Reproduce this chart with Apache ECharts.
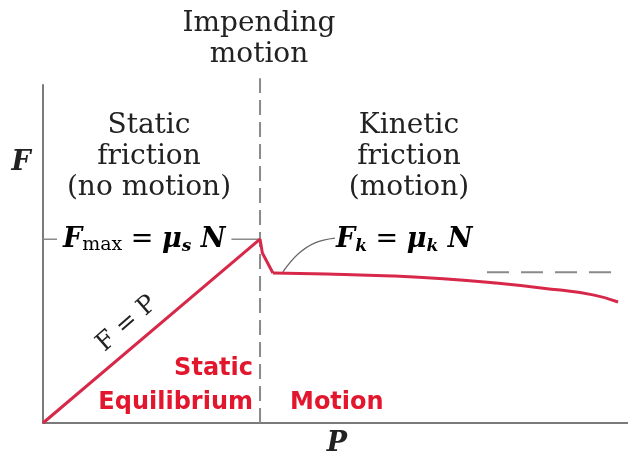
<!DOCTYPE html>
<html>
<head>
<meta charset="utf-8">
<script src="https://cdn.jsdelivr.net/npm/echarts@6/dist/echarts.min.js"></script>
<style>
  html, body { margin: 0; padding: 0; background: #fff; }
  #chart { width: 628px; height: 458px; }
</style>
</head>
<body>
<div id="chart"></div>
<script>
// data (P and F in arbitrary units, 0..100)
const staticP = [0, 37.1, 37.5, 39.3];
const staticF = [0, 54.4, 50.3, 44.4];
const kineticP = [39.3, 48.5, 59.8, 68.4, 76.9, 85.5, 94.0, 98.3];
const kineticF = [44.4, 44.1, 43.5, 42.7, 41.5, 39.9, 37.9, 35.8];
const leaderP = [41.0, 43.6, 46.5, 49.9];
const leaderF = [44.7, 50.0, 53.3, 54.7];
const impendingP = 37.1;
const impendingTop = 102;
const fMax = 54.4;
const fKinetic = 44.6;
const kineticRefStart = 75.9;
const kineticRefEnd = 98.3;

const pairs = (xs, ys) => xs.map((x, i) => [x, ys[i]]);

const chart = echarts.init(document.getElementById('chart'));

const serif = "'DejaVu Serif', serif";
const sans = "'DejaVu Sans', sans-serif";
const red = '#e2172d';
const lineRed = '#d8284a';
const gray = '#8a8a8a';
const ink = '#222';

// rich styles for the math labels
const mathRich = {
    v: { fontFamily: serif, fontStyle: 'italic', fontWeight: 'bold', fontSize: 27, color: ink, lineHeight: 30, verticalAlign: 'middle' },
    o: { fontFamily: serif, fontSize: 27, color: ink, lineHeight: 30, verticalAlign: 'middle' },
    s: { fontFamily: serif, fontSize: 19, color: ink, lineHeight: 14, verticalAlign: 'bottom' },
    si: { fontFamily: serif, fontStyle: 'italic', fontWeight: 'bold', fontSize: 17, color: ink, lineHeight: 14, verticalAlign: 'bottom' }
};

const option = {
    animation: false,
    grid: { left: 43, right: 0, top: 85, bottom: 35 },
    xAxis: {
        type: 'value', min: 0, max: 100,
        axisLine: { show: true, lineStyle: { color: '#7a7a7a', width: 2 } },
        axisTick: { show: false }, axisLabel: { show: false }, splitLine: { show: false }
    },
    yAxis: {
        type: 'value', min: 0, max: 100,
        axisLine: { show: true, lineStyle: { color: '#7a7a7a', width: 2 } },
        axisTick: { show: false }, axisLabel: { show: false }, splitLine: { show: false }
    },
    series: [
        {
            name: 'impending',
            type: 'line',
            data: [[impendingP, 0], [impendingP, impendingTop]],
            symbol: 'none',
            clip: false,
            lineStyle: { color: gray, width: 2, type: [15, 7] },
            z: 1
        },
        {
            name: 'fmax',
            type: 'line',
            data: [[0, fMax], [impendingP, fMax]],
            symbol: 'none',
            lineStyle: { color: gray, width: 1.5 },
            z: 1
        },
        {
            name: 'kineticRef',
            type: 'line',
            data: [[kineticRefStart, fKinetic], [kineticRefEnd, fKinetic]],
            symbol: 'none',
            lineStyle: { color: gray, width: 2, type: [22, 12] },
            z: 1
        },
        {
            name: 'static',
            type: 'line',
            data: pairs(staticP, staticF),
            symbol: 'none',
            lineStyle: { color: lineRed, width: 3 },
            z: 3
        },
        {
            name: 'kinetic',
            type: 'line',
            data: pairs(kineticP, kineticF),
            symbol: 'none',
            smooth: 0.5,
            lineStyle: { color: lineRed, width: 3 },
            z: 3
        },
        {
            name: 'leader',
            type: 'line',
            data: pairs(leaderP, leaderF),
            symbol: 'none',
            smooth: 0.4,
            lineStyle: { color: '#666', width: 1.2 },
            z: 2
        }
    ],
    graphic: [
        { type: 'text', position: [259, 39], style: { text: 'Impending\nmotion', align: 'center', verticalAlign: 'middle', font: `28px ${serif}`, lineHeight: 31, fill: ink } },
        { type: 'text', position: [149, 157], style: { text: 'Static\nfriction\n(no motion)', align: 'center', verticalAlign: 'middle', font: `28px ${serif}`, lineHeight: 31, fill: ink } },
        { type: 'text', position: [409, 157], style: { text: 'Kinetic\nfriction\n(motion)', align: 'center', verticalAlign: 'middle', font: `28px ${serif}`, lineHeight: 31, fill: ink } },
        { type: 'text', position: [21, 163], style: { text: 'F', align: 'center', verticalAlign: 'middle', font: `italic bold 27px ${serif}`, fill: ink } },
        { type: 'text', position: [337, 444], style: { text: 'P', align: 'center', verticalAlign: 'middle', font: `italic bold 27px ${serif}`, fill: ink } },
        {
            type: 'text', position: [57, 240], z: 10,
            style: {
                text: '{v|F}{s|max}{o| = }{v|μ}{si|s}{v| N}',
                rich: mathRich, align: 'left', verticalAlign: 'middle',
                backgroundColor: '#fff', padding: [0, 6, 0, 6]
            }
        },
        {
            type: 'text', position: [336, 240], z: 10,
            style: {
                text: '{v|F}{si|k}{o| = }{v|μ}{si|k}{v| N}',
                rich: mathRich, align: 'left', verticalAlign: 'middle'
            }
        },
        { type: 'text', position: [127, 324], rotation: 0.72, style: { text: 'F = P', align: 'center', verticalAlign: 'middle', font: `25px ${serif}`, fill: ink } },
        { type: 'text', position: [253, 386], style: { text: 'Static\nEquilibrium', align: 'right', verticalAlign: 'middle', font: `bold 24px ${sans}`, lineHeight: 34, fill: red } },
        { type: 'text', position: [290, 403], style: { text: 'Motion', align: 'left', verticalAlign: 'middle', font: `bold 24px ${sans}`, fill: red } }
    ]
};

chart.setOption(option);
</script>
</body>
</html>
